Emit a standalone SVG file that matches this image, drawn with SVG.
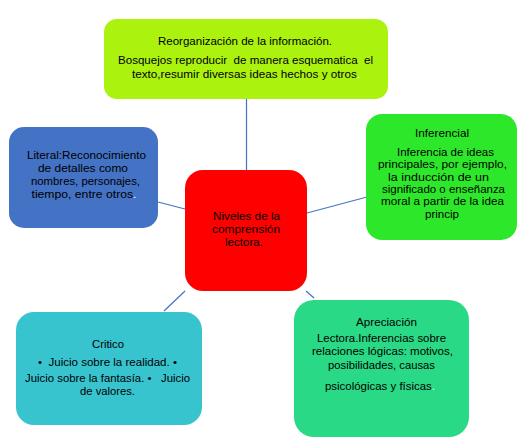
<svg xmlns="http://www.w3.org/2000/svg" width="529" height="444" viewBox="0 0 529 444" xml:space="preserve">
<style>
text{font-family:"Liberation Sans",Arial,sans-serif;font-size:11.5px;fill:#000;text-anchor:middle;white-space:pre}
.w{fill:#ffffff}
.c{stroke:#4472c4;stroke-width:1.2;fill:none}
</style>
<rect width="529" height="444" fill="#ffffff"/>
<g id="connectors">
<line class="c" x1="246.5" y1="99" x2="246.5" y2="170"/>
<line class="c" x1="158" y1="202" x2="185" y2="209"/>
<line class="c" x1="307" y1="213" x2="367" y2="197"/>
<line class="c" x1="185" y1="291" x2="164" y2="311"/>
<line class="c" x1="306" y1="291" x2="314" y2="298"/>
</g>
<g id="node-top">
<rect x="104" y="19" width="284" height="80" rx="13" fill="#abf20f"/>
<text x="245" y="45" textLength="174" lengthAdjust="spacingAndGlyphs">Reorganización de la información.</text>
<text x="245.5" y="64" textLength="255" lengthAdjust="spacingAndGlyphs">Bosquejos reproducir  de manera esquematica  el</text>
<text x="246" y="78" textLength="228" lengthAdjust="spacingAndGlyphs">texto,resumir diversas ideas hechos y otros<tspan class="w">.</tspan></text>
</g>
<g id="node-literal">
<rect x="9" y="127" width="149" height="101" rx="15" fill="#4472c4"/>
<text x="86.5" y="159" textLength="119" lengthAdjust="spacingAndGlyphs">Literal:Reconocimiento</text>
<text x="83" y="172" textLength="90" lengthAdjust="spacingAndGlyphs">de detalles como</text>
<text x="85.5" y="185" textLength="109" lengthAdjust="spacingAndGlyphs">nombres, personajes,</text>
<text x="84" y="198" textLength="105" lengthAdjust="spacingAndGlyphs">tiempo, entre otros<tspan class="w">.</tspan></text>
</g>
<g id="node-inferencial">
<rect x="366" y="114" width="151" height="126" rx="16" fill="#2de82a"/>
<text x="442" y="137" textLength="54" lengthAdjust="spacingAndGlyphs">Inferencial</text>
<text x="445.5" y="156" textLength="97" lengthAdjust="spacingAndGlyphs">Inferencia de ideas</text>
<text x="442.5" y="168" textLength="129" lengthAdjust="spacingAndGlyphs">principales, por ejemplo,</text>
<text x="438.5" y="180.5" textLength="101" lengthAdjust="spacingAndGlyphs">la inducción de un</text>
<text x="443.5" y="193" textLength="123" lengthAdjust="spacingAndGlyphs">significado o enseñanza</text>
<text x="442.5" y="205" textLength="123" lengthAdjust="spacingAndGlyphs">moral a partir de la idea</text>
<text x="442" y="217.5" textLength="34" lengthAdjust="spacingAndGlyphs">princip</text>
</g>
<g id="node-center">
<rect x="185" y="170" width="122" height="121" rx="18" fill="#ff0000"/>
<text x="246.5" y="220" textLength="67" lengthAdjust="spacingAndGlyphs">Niveles de la</text>
<text x="246" y="233" textLength="68" lengthAdjust="spacingAndGlyphs">comprensión</text>
<text x="244" y="246" textLength="38" lengthAdjust="spacingAndGlyphs">lectora.</text>
</g>
<g id="node-critico">
<rect x="16" y="312" width="186" height="113" rx="18" fill="#37c4cf"/>
<text x="108" y="348" textLength="32" lengthAdjust="spacingAndGlyphs">Critico</text>
<text x="107.5" y="366" textLength="139" lengthAdjust="spacingAndGlyphs">•  Juicio sobre la realidad. •</text>
<text x="107.5" y="382" textLength="165" lengthAdjust="spacingAndGlyphs">Juicio sobre la fantasía. •   Juicio</text>
<text x="107.5" y="395" textLength="55" lengthAdjust="spacingAndGlyphs">de valores.</text>
</g>
<g id="node-apreciacion">
<rect x="294" y="300" width="175" height="137" rx="20" fill="#29d985"/>
<text x="386.5" y="326" textLength="61" lengthAdjust="spacingAndGlyphs">Apreciación</text>
<text x="381.5" y="342" textLength="129" lengthAdjust="spacingAndGlyphs">Lectora.Inferencias sobre</text>
<text x="382.5" y="355" textLength="141" lengthAdjust="spacingAndGlyphs">relaciones lógicas: motivos,</text>
<text x="381.5" y="369" textLength="107" lengthAdjust="spacingAndGlyphs">posibilidades, causas</text>
<text x="380" y="390" textLength="110" lengthAdjust="spacingAndGlyphs">psicológicas y físicas<tspan class="w">.</tspan></text>
</g>
</svg>
